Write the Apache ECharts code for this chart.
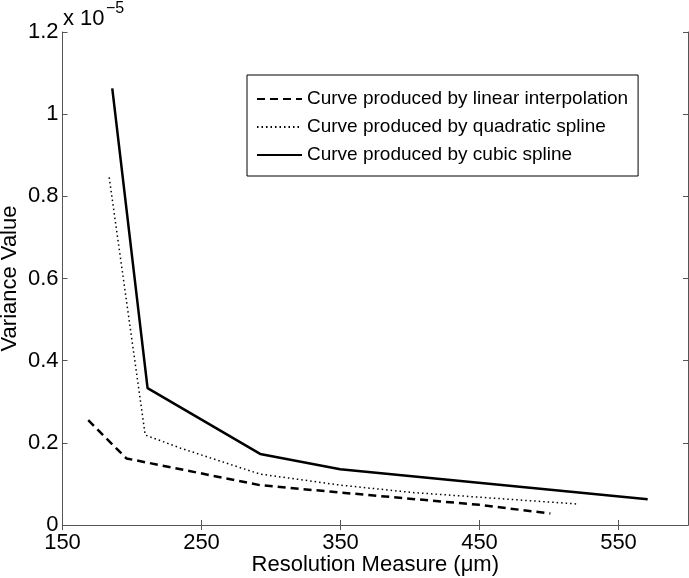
<!DOCTYPE html>
<html>
<head>
<meta charset="utf-8">
<script src="https://cdn.jsdelivr.net/npm/echarts@6/dist/echarts.min.js"></script>
<style>
html,body{margin:0;padding:0;background:#fff;}
#chart{width:689px;height:578px;}
</style>
</head>
<body>
<div id="chart"></div>
<script>
// values in units of 1e-5
const seriesNames = [
  'Curve produced by linear interpolation',
  'Curve produced by quadratic spline',
  'Curve produced by cubic spline'
];
const linearX = [168.5, 196, 292, 350, 450, 501];
const linearY = [0.255, 0.162, 0.097, 0.079, 0.049, 0.028];
const quadX = [183.6, 209.5, 235, 292, 350, 402, 474, 521];
const quadY = [0.846, 0.219, 0.187, 0.124, 0.097, 0.079, 0.062, 0.051];
const cubicX = [185.8, 211.2, 292.2, 349.8, 571];
const cubicY = [1.063, 0.333, 0.173, 0.1355, 0.0625];
const xTicks = [150, 250, 350, 450, 550];
const yTicks = [0, 0.2, 0.4, 0.6, 0.8, 1, 1.2];

const zip = (xs, ys) => xs.map((x, i) => [x, ys[i]]);
const FONT = '"Liberation Sans", Arial, sans-serif';
const frameColor = '#555';

const chart = echarts.init(document.getElementById('chart'), null, {renderer: 'canvas'});
const axisCommon = {
  axisLine: {show: true, lineStyle: {color: frameColor, width: 1}},
  splitLine: {show: false},
};
chart.setOption({
  backgroundColor: '#fff',
  animation: false,
  grid: {left: 62.5, right: 1, top: 32, bottom: 53, containLabel: false, outerBoundsMode: 'none'},
  xAxis: [{
    type: 'value', min: 150, max: 600, position: 'bottom',
    ...axisCommon,
    axisTick: {show: true, inside: true, length: 5, lineStyle: {color: frameColor}, customValues: xTicks},
    axisLabel: {customValues: xTicks, color: '#000', fontSize: 22, fontFamily: FONT, margin: 7},
    name: 'Resolution Measure (\u03bcm)', nameLocation: 'middle', nameGap: 29, nameMoveOverlap: false,
    nameTextStyle: {color: '#000', fontSize: 22, fontFamily: FONT}
  }, {
    type: 'value', min: 150, max: 600, position: 'top',
    ...axisCommon,
    axisTick: {show: true, inside: true, length: 5, lineStyle: {color: frameColor}, customValues: xTicks},
    axisLabel: {show: false}
  }],
  yAxis: [{
    type: 'value', min: 0, max: 1.2, interval: 0.2, position: 'left',
    ...axisCommon,
    axisTick: {show: true, inside: true, length: 5, lineStyle: {color: frameColor}},
    axisLabel: {color: '#000', fontSize: 22, fontFamily: FONT, margin: 4,
      formatter: v => String(+v.toFixed(1))},
    name: 'Variance Value', nameLocation: 'middle', nameGap: 42, nameRotate: 90, nameMoveOverlap: false,
    nameTextStyle: {color: '#000', fontSize: 22, fontFamily: FONT}
  }, {
    type: 'value', min: 0, max: 1.2, interval: 0.2, position: 'right',
    ...axisCommon,
    axisTick: {show: true, inside: true, length: 5, lineStyle: {color: frameColor}},
    axisLabel: {show: false}
  }],
  legend: {
    orient: 'vertical', left: 247, top: 75,
    padding: [14, 10, 11, 9], itemGap: 8, itemWidth: 45, itemHeight: 14,
    borderColor: '#000', borderWidth: 1, backgroundColor: '#fff',
    itemStyle: {opacity: 0},
    lineStyle: {opacity: 1},
    textStyle: {color: '#000', fontSize: 19, fontFamily: FONT, lineHeight: 20},
    data: seriesNames,
    selectedMode: false
  },
  series: [{
    name: seriesNames[0], type: 'line', showSymbol: false, symbol: 'none',
    data: zip(linearX, linearY),
    lineStyle: {color: '#000', width: 2.5, type: [8, 5]}, itemStyle: {color: '#000'}
  }, {
    name: seriesNames[1], type: 'line', showSymbol: false, symbol: 'none',
    data: zip(quadX, quadY),
    lineStyle: {color: '#000', width: 1.5, type: [1.5, 3]}, itemStyle: {color: '#000'}
  }, {
    name: seriesNames[2], type: 'line', showSymbol: false, symbol: 'none',
    data: zip(cubicX, cubicY),
    lineStyle: {color: '#000', width: 2.5, type: 'solid'}, itemStyle: {color: '#000'}
  }],
  graphic: [
    {type: 'text', left: 63, top: 8, style: {text: 'x 10', fontSize: 22, fontFamily: FONT, fill: '#000'}},
    {type: 'text', left: 106, top: 1, style: {text: '\u22125', fontSize: 16, fontFamily: FONT, fill: '#000'}}
  ]
});
</script>
</body>
</html>
